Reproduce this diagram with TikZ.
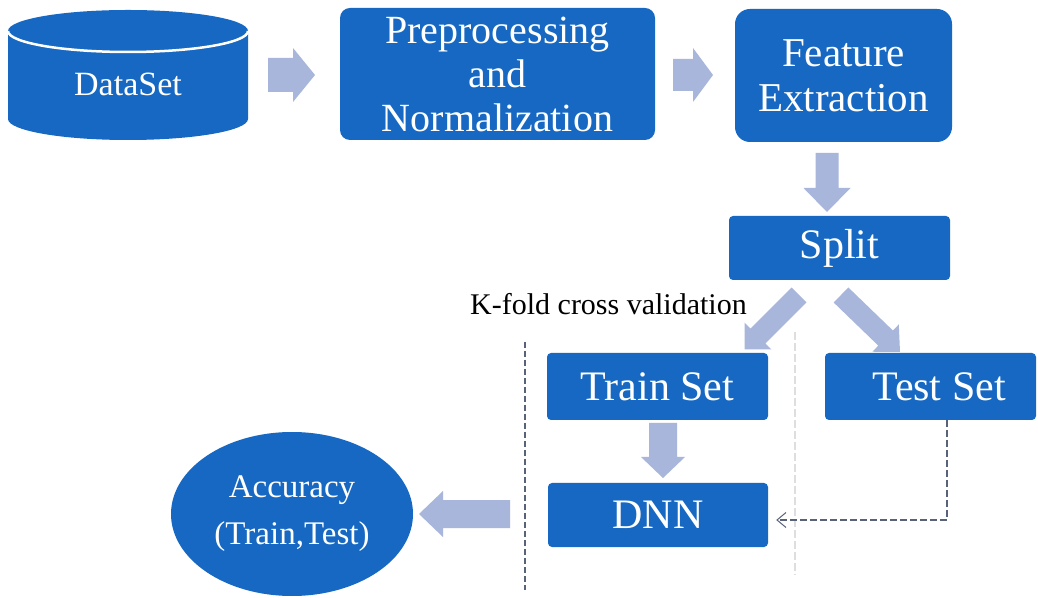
\documentclass[tikz,border=0pt]{standalone}
\usepackage{fontspec}
\setmainfont{Liberation Serif}
\usetikzlibrary{arrows.meta,shapes.geometric}

\definecolor{boxblue}{RGB}{22,104,194}
\definecolor{arrowfill}{RGB}{168,182,220}
\definecolor{dashgray}{RGB}{88,98,120}
\definecolor{faintgray}{RGB}{222,222,222}

\tikzset{
  stage/.style={fill=boxblue, text=white, rounded corners=4pt, inner sep=0pt, align=center},
  bigtext/.style={font=\fontsize{42}{46}\selectfont},
  % block arrow pointing along +x: length, shaft half-width, head half-width, head length
  pics/fatarrow/.style n args={4}{code={
    \fill[arrowfill] (0,-#2) -- ({#1-#4},-#2) -- ({#1-#4},-#3) -- (#1,0)
      -- ({#1-#4},#3) -- ({#1-#4},#2) -- (0,#2) -- cycle;
  }},
}

\begin{document}
\begin{tikzpicture}[x=1pt,y=1pt]
\useasboundingbox[fill=white] (0,0) rectangle (1038,597);

% fold separators
\draw[faintgray, line width=1.5pt, dash pattern=on 8pt off 3pt] (795,265) -- (795,22);
\draw[dashgray, line width=1.1pt, dash pattern=on 6pt off 3pt] (525,255) -- (525,7);

% dataset drum
\fill[boxblue] (8,566) -- (8,478)
  arc[start angle=180, end angle=360, x radius=120pt, y radius=21pt]
  -- (248,566)
  arc[start angle=0, end angle=180, x radius=120pt, y radius=21pt] -- cycle;
\draw[white, line width=2.5pt] (8,566)
  arc[start angle=180, end angle=360, x radius=120pt, y radius=21pt];
\node[text=white, font=\fontsize{34}{38}\selectfont, inner sep=0pt] (data) at (128,513) {DataSet};

% processing stages
\node[stage, rounded corners=10pt, minimum width=315pt, minimum height=132pt,
      font=\fontsize{40}{44}\selectfont] (prep) at (497.5,523)
      {Preprocessing\\and\\Normalization};
\node[stage, rounded corners=15pt, minimum width=217pt, minimum height=133pt,
      font=\fontsize{41}{45}\selectfont] (feat) at (843.5,521.5)
      {Feature\\Extraction};
\node[stage, bigtext, minimum width=221pt, minimum height=64pt] (split) at (839.5,349) {Split};
\node[stage, bigtext, minimum width=221pt, minimum height=67pt] (train) at (657.5,210.5) {Train Set};
\node[stage, bigtext, minimum width=211pt, minimum height=67pt] (test) at (930.5,210.5) {\hspace*{17pt}Test Set};
\node[stage, bigtext, minimum width=220pt, minimum height=64pt] (dnn) at (658,82) {DNN};
\node[ellipse, fill=boxblue, text=white, inner sep=0pt, align=center,
      minimum width=242pt, minimum height=164pt,
      font=\fontsize{33}{47}\selectfont] (acc) at (292,83) {Accuracy\\(Train,Test)};

\node[anchor=base west, inner sep=0pt, font=\fontsize{30}{34}\selectfont] (kfold) at (470,282)
  {K-fold cross validation};

% block arrows
\pic at (268,522) {fatarrow={47}{17}{27}{22}};
\pic at (673,522) {fatarrow={40}{16}{27}{20}};
\pic[rotate=-90] at (827,444) {fatarrow={59}{11.5}{23.5}{24}};
\pic[rotate=-135] at (799,302) {fatarrow={77}{10.5}{19}{19}};
\pic[rotate=-44] at (841,302) {fatarrow={82}{10.5}{19}{20}};
\pic[rotate=-90] at (663,174) {fatarrow={55}{14}{22}{21}};
\pic[rotate=180] at (510,83) {fatarrow={91}{14}{23}{24}};

% test set feeds the network
\coordinate (tx) at (947,0);
\draw[dashgray, line width=1.2pt, dash pattern=on 7pt off 3pt,
      -{Straight Barb[length=9pt,width=15pt,line width=1pt]}]
  (test.south -| tx) |- ([xshift=8pt,yshift=-5pt]dnn.east);
\end{tikzpicture}
\end{document}
